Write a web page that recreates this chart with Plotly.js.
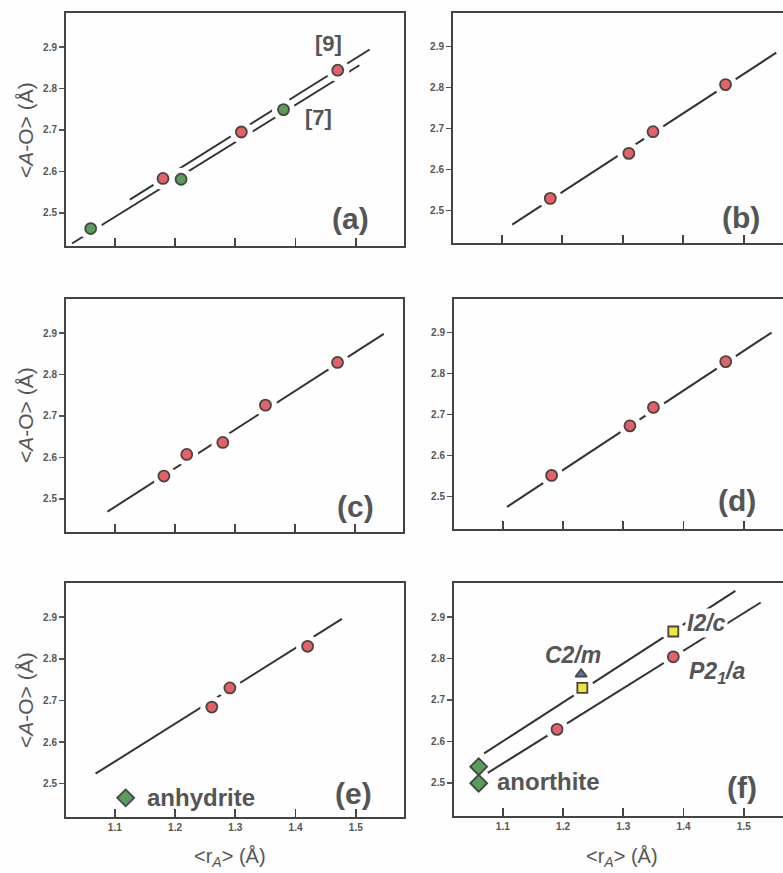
<!DOCTYPE html>
<html>
<head>
<meta charset="utf-8">
<script src="https://cdn.plot.ly/plotly-3.0.1.min.js"></script>
<style>
html,body{margin:0;padding:0;overflow:hidden;background:#fefefe;}
#chart{width:800px;height:873px;}
</style>
</head>
<body>
<div id="chart"></div>
<script>
// ---- data ----
// panel (a)
const a9X = [1.18, 1.31, 1.47];
const a9Y = [2.583, 2.695, 2.844];
const a7X = [1.06, 1.21, 1.38];
const a7Y = [2.462, 2.581, 2.749];
const fitA9X = [1.125, 1.523];
const fitA9Y = [2.532, 2.894];
const fitA7X = [1.029, 1.506];
const fitA7Y = [2.426, 2.856];
// panel (b)
const bX = [1.18, 1.31, 1.35, 1.47];
const bY = [2.529, 2.639, 2.692, 2.807];
const fitBX = [1.117, 1.554];
const fitBY = [2.465, 2.885];
// panel (c)
const cX = [1.182, 1.22, 1.28, 1.351, 1.471];
const cY = [2.555, 2.607, 2.636, 2.726, 2.829];
const fitCX = [1.088, 1.548];
const fitCY = [2.469, 2.898];
// panel (d)
const dX = [1.181, 1.311, 1.35, 1.47];
const dY = [2.551, 2.672, 2.717, 2.829];
const fitDX = [1.107, 1.546];
const fitDY = [2.474, 2.900];
// panel (e)
const eX = [1.261, 1.291, 1.42];
const eY = [2.684, 2.730, 2.830];
const fitEX = [1.068, 1.477];
const fitEY = [2.524, 2.896];
const anhydriteX = [1.118];
const anhydriteY = [2.466];
// panel (f)
const anorthiteX = [1.06, 1.06];
const anorthiteY = [2.539, 2.499];
const p21aX = [1.19, 1.383];
const p21aY = [2.629, 2.804];
const i2cX = [1.232, 1.383];
const i2cY = [2.729, 2.865];
const c2mX = [1.23];
const c2mY = [2.762];
const fitFUpX = [1.069, 1.486];
const fitFUpY = [2.571, 2.963];
const fitFLoX = [1.075, 1.528];
const fitFLoY = [2.524, 2.935];

const xTicks = [1.1, 1.2, 1.3, 1.4, 1.5];
const xTickText = ['1.1', '1.2', '1.3', '1.4', '1.5'];
const yTicks = [2.5, 2.6, 2.7, 2.8, 2.9];
const yTickText = ['2.5', '2.6', '2.7', '2.8', '2.9'];

// ---- styling ----
const W = 800, H = 873;
const BG = '#fefefe';
const INK = '#555555';
const LINE = '#333333';
const RED = '#e85f66', GREEN = '#5a9d58', YELLOW = '#f3e43c', BLUE = '#5a76a6';
const FONT = 'Liberation Sans, Arial, sans-serif';
const px = v => v / W;
const py = v => 1 - v / H;

const traces = [];
function fit(xs, ys, ax) {
  traces.push({x: xs, y: ys, xaxis: 'x' + ax, yaxis: 'y' + ax, mode: 'lines',
    line: {color: LINE, width: 2}, hoverinfo: 'skip', showlegend: false});
}
function halo(xs, ys, ax) {
  traces.push({x: xs, y: ys, xaxis: 'x' + ax, yaxis: 'y' + ax, mode: 'markers',
    marker: {color: BG, size: 23, line: {width: 0}}, hoverinfo: 'skip', showlegend: false});
}
function pts(xs, ys, ax, color, symbol, size) {
  traces.push({x: xs, y: ys, xaxis: 'x' + ax, yaxis: 'y' + ax, mode: 'markers',
    marker: {color: color, symbol: symbol, size: size, line: {color: '#454545', width: 1.8}},
    showlegend: false});
}

// (a)
fit(fitA9X, fitA9Y, ''); fit(fitA7X, fitA7Y, '');
halo(a9X, a9Y, ''); halo(a7X, a7Y, '');
pts(a9X, a9Y, '', RED, 'circle', 11); pts(a7X, a7Y, '', GREEN, 'circle', 11);
// (b)
fit(fitBX, fitBY, '2'); halo(bX, bY, '2'); pts(bX, bY, '2', RED, 'circle', 11);
// (c)
fit(fitCX, fitCY, '3'); halo(cX, cY, '3'); pts(cX, cY, '3', RED, 'circle', 11);
// (d)
fit(fitDX, fitDY, '4'); halo(dX, dY, '4'); pts(dX, dY, '4', RED, 'circle', 11);
// (e)
fit(fitEX, fitEY, '5'); halo(eX, eY, '5'); pts(eX, eY, '5', RED, 'circle', 11);
pts(anhydriteX, anhydriteY, '5', GREEN, 'diamond', 13);
// (f)
fit(fitFUpX, fitFUpY, '6'); fit(fitFLoX, fitFLoY, '6');
halo(p21aX, p21aY, '6'); halo(i2cX, i2cY, '6');
pts(p21aX, p21aY, '6', RED, 'circle', 11);
pts(i2cX, i2cY, '6', YELLOW, 'square', 10);
pts(c2mX, c2mY, '6', BLUE, 'triangle-up', 10);
pts(anorthiteX, anorthiteY, '6', GREEN, 'diamond', 13);

// ---- axes ----
const panels = [
  {x: [66, 404], y: [13, 246], labels: false},
  {x: [453, 792], y: [13, 243], labels: false},
  {x: [66, 403], y: [299, 532], labels: false},
  {x: [454, 792], y: [299, 529], labels: false},
  {x: [66, 404], y: [583, 817], labels: true},
  {x: [454, 792], y: [583, 816], labels: true}
];
const layout = {
  width: W, height: H,
  margin: {l: 0, r: 0, t: 0, b: 0},
  paper_bgcolor: BG, plot_bgcolor: BG,
  showlegend: false,
  font: {family: FONT, color: INK},
  annotations: []
};
panels.forEach((p, i) => {
  const n = i === 0 ? '' : String(i + 1);
  layout['xaxis' + n] = {
    domain: [px(p.x[0]), px(p.x[1])],
    anchor: 'y' + n,
    range: [1.019, 1.58],
    showline: true, mirror: true, linecolor: '#444', linewidth: 2,
    showgrid: false, zeroline: false,
    tickmode: 'array', tickvals: xTicks, ticktext: xTickText,
    ticks: 'inside', ticklen: 8, tickwidth: 1.8, tickcolor: '#444',
    showticklabels: p.labels,
    tickfont: {family: FONT, size: 10, color: INK, weight: 'bold'}
  };
  layout['yaxis' + n] = {
    domain: [py(p.y[1]), py(p.y[0])],
    anchor: 'x' + n,
    range: [2.42, 2.982],
    showline: true, mirror: true, linecolor: '#444', linewidth: 2,
    showgrid: false, zeroline: false,
    tickmode: 'array', tickvals: yTicks, ticktext: yTickText,
    ticks: 'outside', ticklen: 5, tickwidth: 1.5, tickcolor: '#555',
    tickfont: {family: FONT, size: 10, color: INK, weight: 'bold'}
  };
});

function note(text, x, y, size, opts) {
  layout.annotations.push(Object.assign({
    text: text, xref: 'paper', yref: 'paper', x: px(x), y: py(y),
    xanchor: 'center', yanchor: 'middle', showarrow: false,
    font: {family: FONT, size: size, color: INK, weight: 'bold'}
  }, opts || {}));
}
// panel letters
note('(a)', 350, 218, 30);
note('(b)', 741, 217, 30);
note('(c)', 355, 506, 30);
note('(d)', 737, 501, 30);
note('(e)', 353, 793, 30);
note('(f)', 742, 787, 30);
// in-panel labels
note('[9]', 328, 43, 22);
note('[7]', 318, 118, 22);
note('anhydrite', 201, 797, 24);
note('anorthite', 548, 781, 24);
note('<i>C2/m</i>', 573, 655, 23);
note('<i>I2/c</i>', 706, 623, 23, {bgcolor: BG, borderpad: 1});
note('<i>P2<sub>1</sub>/a</i>', 717, 672, 23);
// axis titles
const yTitle = '&lt;<i>A</i>-O&gt; (Å)';
note(yTitle, 25, 130, 21, {textangle: -90, font: {family: FONT, size: 21, color: INK}});
note(yTitle, 25, 415, 21, {textangle: -90, font: {family: FONT, size: 21, color: INK}});
note(yTitle, 25, 700, 21, {textangle: -90, font: {family: FONT, size: 21, color: INK}});
const xTitle = '&lt;r<sub><i>A</i></sub>&gt; (Å)';
note(xTitle, 230, 857, 20, {font: {family: FONT, size: 20, color: INK}});
note(xTitle, 622, 857, 20, {font: {family: FONT, size: 20, color: INK}});

Plotly.newPlot('chart', traces, layout, {staticPlot: true, displayModeBar: false});
</script>
</body>
</html>
